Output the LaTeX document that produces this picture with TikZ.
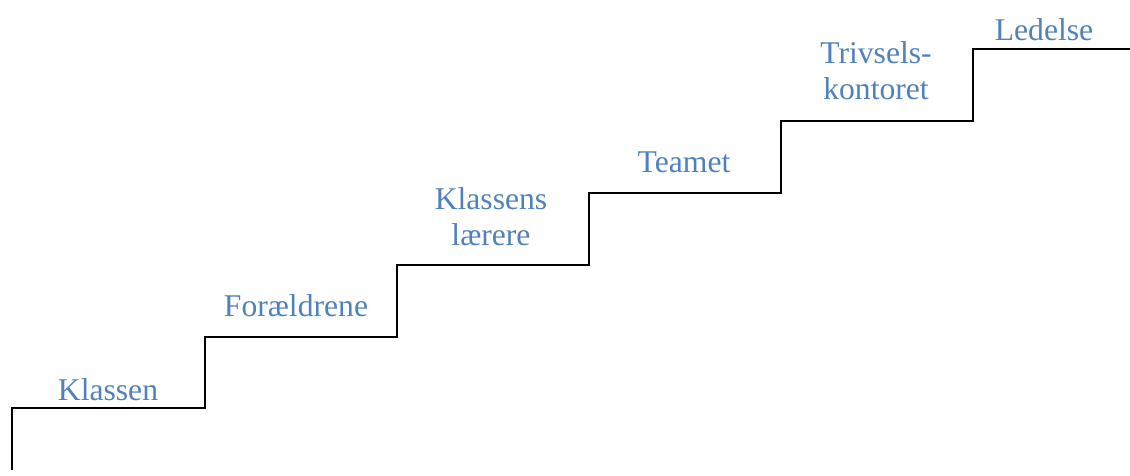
\documentclass[tikz,border=0pt]{standalone}
\usepackage{fontspec}
\setmainfont{Liberation Serif}
\usetikzlibrary{positioning}
\definecolor{trinblue}{HTML}{4F81BD}

\begin{document}
\begin{tikzpicture}[x=0.025cm,y=-0.025cm,
  trinlabel/.style={text=trinblue,align=center,anchor=base,inner sep=0pt,
    font=\fontsize{22.5}{25.6}\selectfont},
  trapline/.style={draw=black,line width=1.6pt,line join=miter},
 ]
\useasboundingbox (0,0) rectangle (1130,475);

% trappens hjoerner
\coordinate (S0) at (12,470);
\coordinate (S1) at (12,408);
\coordinate (S2) at (205,408);
\coordinate (S3) at (205,337);
\coordinate (S4) at (397,337);
\coordinate (S5) at (397,265);
\coordinate (S6) at (589,265);
\coordinate (S7) at (589,193);
\coordinate (S8) at (781,193);
\coordinate (S9) at (781,121);
\coordinate (S10) at (973,121);
\coordinate (S11) at (973,49);
\coordinate (S12) at (1130,49);

\draw[trapline] (S0) -- (S1) -- (S2) -- (S3) -- (S4) -- (S5) -- (S6)
  -- (S7) -- (S8) -- (S9) -- (S10) -- (S11) -- (S12);

% trinene
\node[trinlabel] (K1) at (108,400) {Klassen};
\node[trinlabel] (F1) at (296,316) {Forældrene};
\node[trinlabel] (L1) at (491,245) {Klassens\\lærere};
\node[trinlabel] (T1) at (684,172) {Teamet};
\node[trinlabel] (V1) at (876,99) {Trivsels-\\kontoret};
\node[trinlabel] (D1) at (1044,40) {Ledelse};

\end{tikzpicture}
\end{document}
